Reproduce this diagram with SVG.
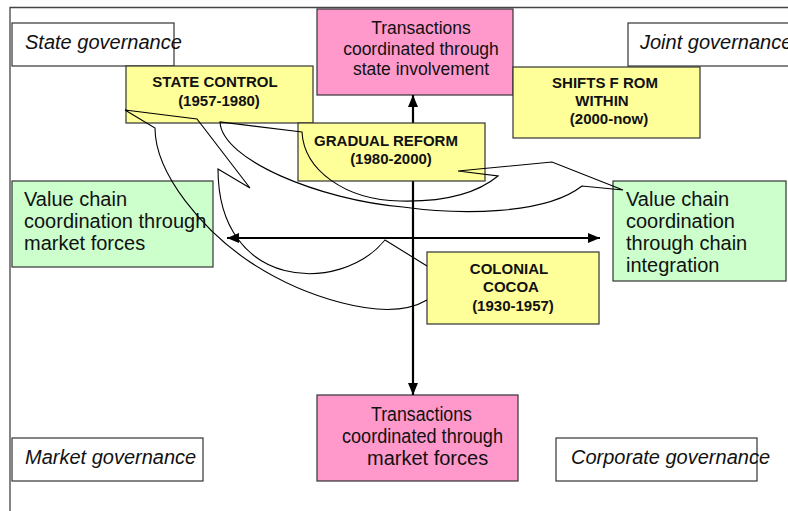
<svg xmlns="http://www.w3.org/2000/svg" width="788" height="511" viewBox="0 0 788 511">
<style>
.box{stroke:#333;stroke-width:1.2}
.gov{fill:#fff}
.pink{fill:#ff99cc}
.green{fill:#ccffcc}
.yellow{fill:#ffff99}
.t{font-family:"Liberation Sans",Arial,sans-serif;fill:#111}
.it{font-size:20px;font-style:italic}
.big{font-size:20px}
.mid{font-size:17.5px}
.yb{font-size:15px;font-weight:bold;text-anchor:middle}
.c{text-anchor:middle}
.axis{stroke:#000;stroke-width:2.2;fill:none;marker-start:url(#ah);marker-end:url(#ah)}
.callout{fill:none;stroke:#000;stroke-width:1.1;stroke-linejoin:miter}
</style>
<defs>
<marker id="ah" markerUnits="userSpaceOnUse" markerWidth="14" markerHeight="12" refX="12" refY="5" orient="auto-start-reverse">
<path d="M0,0 L12,5 L0,10 z" fill="#000"/>
</marker>
</defs>
<rect width="788" height="511" fill="#fff"/>
<path d="M10,511 V7.5 H788" fill="none" stroke="#444" stroke-width="1.3"/>

<g id="state-governance"><rect class="box gov" x="12" y="23" width="162" height="43"/><text class="t it" x="25" y="49">State governance</text></g>
<g id="joint-governance"><rect class="box gov" x="628" y="23" width="175" height="43"/><text class="t it" x="640" y="49">Joint governance</text></g>
<g id="market-governance"><rect class="box gov" x="12" y="438" width="191" height="43"/><text class="t it" x="25" y="464">Market governance</text></g>
<g id="corporate-governance"><rect class="box gov" x="556" y="438" width="201" height="43"/><text class="t it" x="571" y="464">Corporate governance</text></g>

<g id="state-involvement"><rect class="box pink" x="317" y="9" width="196" height="86"/>
<text class="t mid c" x="421" y="34">Transactions</text>
<text class="t mid c" x="421" y="54.5">coordinated through</text>
<text class="t mid c" x="421" y="75">state involvement</text></g>

<g id="market-forces-transactions"><rect class="box pink" x="317" y="395" width="201" height="86"/>
<text class="t big" x="371" y="420.5" textLength="101" lengthAdjust="spacingAndGlyphs">Transactions</text>
<text class="t big" x="342" y="443" textLength="161" lengthAdjust="spacingAndGlyphs">coordinated through</text>
<text class="t big" x="367" y="465">market forces</text></g>

<g id="market-coordination"><rect class="box green" x="12" y="181" width="201" height="86"/>
<text class="t big" x="24" y="206">Value chain</text>
<text class="t big" x="24" y="228">coordination through</text>
<text class="t big" x="24" y="250">market forces</text></g>

<g id="chain-integration"><rect class="box green" x="613" y="181" width="173" height="100"/>
<text class="t big" x="626" y="206">Value chain</text>
<text class="t big" x="626" y="228">coordination</text>
<text class="t big" x="626" y="250">through chain</text>
<text class="t big" x="626" y="272">integration</text></g>

<g id="connectors-axes">
<path class="axis" d="M413,95 V395"/>
<path class="axis" d="M227,238 H600"/>
</g>

<g id="state-control"><rect class="box yellow" x="126" y="66" width="187" height="57"/>
<text class="t yb" x="215" y="87">STATE CONTROL</text>
<text class="t yb" x="219" y="106">(1957-1980)</text></g>

<g id="shifts-from-within"><rect class="box yellow" x="513" y="67" width="187" height="71"/>
<text class="t yb" x="605" y="87.5">SHIFTS F ROM</text>
<text class="t yb" x="602" y="106">WITHIN</text>
<text class="t yb" x="609" y="124">(2000-now)</text></g>

<g id="gradual-reform"><rect class="box yellow" x="298" y="123" width="187" height="58"/>
<text class="t yb" x="386" y="145.5">GRADUAL REFORM</text>
<text class="t yb" x="391" y="164">(1980-2000)</text></g>

<g id="colonial-cocoa"><rect class="box yellow" x="427" y="252" width="172" height="72"/>
<text class="t yb" x="509" y="273.5">COLONIAL</text>
<text class="t yb" x="511" y="292">COCOA</text>
<text class="t yb" x="513" y="310.5">(1930-1957)</text></g>

<g id="connectors-callouts">
<path class="callout" d="M427,266 L385,240 C340,295 218,290 218,169 L250,188 L197,119 L125,110 L155,128 C155,175 205,232 250,262 C300,295 385,325 427,300"/>
<path class="callout" d="M302,132 L220,122 C222,160 320,200 403,207 C460,215 545,215 582,186 L623,190 L552,162 L458,171 L498,176 C475,195 440,202 400,201 C345,200 304,170 302,132 Z"/>
</g>
</svg>
